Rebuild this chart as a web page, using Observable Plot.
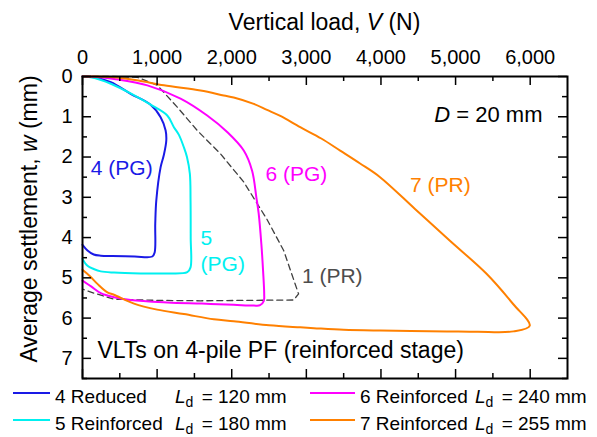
<!DOCTYPE html>
<html><head><meta charset="utf-8">
<script src="https://cdn.jsdelivr.net/npm/d3@7"></script>
<script src="https://cdn.jsdelivr.net/npm/@observablehq/plot@0.6"></script>
<style>
body{margin:0;background:#fff;}
#chart{width:597px;}
svg{display:block}
</style></head><body><div id="chart"></div>
<script>
// ---------- data ----------
const s4V = [0, 150, 380, 645, 913, 1047, 1114, 1123, 1090, 1047, 989, 975, 967, 936, 700, 400, 245, 150, 67, 0];
const s4W = [0, 0.02, 0.14, 0.43, 0.70, 1.01, 1.34, 1.59, 1.95, 2.25, 3.08, 3.66, 4.37, 4.47, 4.47, 4.46, 4.45, 4.42, 4.32, 4.18];

const s5V = [0, 150, 380, 645, 913, 1136, 1225, 1292, 1359, 1400, 1439, 1448, 1450, 1448, 1404, 1100, 779, 422, 245, 150, 67, 0];
const s5W = [0, 0.03, 0.18, 0.42, 0.70, 0.97, 1.26, 1.45, 1.76, 2.0, 2.42, 3.08, 4.0, 4.74, 4.86, 4.89, 4.89, 4.87, 4.84, 4.78, 4.70, 4.53];

const s6V = [0, 200, 422, 869, 1314, 1671, 1939, 2161, 2273, 2330, 2361, 2397, 2420, 2435, 2430, 2380, 2295, 2027, 1600, 1136, 645, 422, 245, 120, 0];
const s6W = [0, 0.01, 0.06, 0.22, 0.55, 0.97, 1.38, 1.84, 2.34, 3.0, 3.4, 4.16, 4.82, 5.4, 5.57, 5.68, 5.69, 5.67, 5.64, 5.61, 5.55, 5.48, 5.38, 5.22, 5.07];

const s7V = [0, 200, 422, 750, 1091, 1582, 1893, 2027, 2295, 2473, 2651, 2918, 3200, 3453, 3720, 3988, 4456, 4924, 5415, 5771, 5994,
             5776, 5300, 4884, 4400, 3993, 3500, 3102, 2918, 2500, 2027, 1760, 1359, 1000, 690, 422, 334, 200, 100, 0];
const s7W = [0, 0.0, 0.02, 0.10, 0.22, 0.35, 0.47, 0.52, 0.68, 0.83, 0.98, 1.26, 1.54, 1.84, 2.16, 2.50, 3.29, 4.08, 4.90, 5.65, 6.19,
             6.33, 6.34, 6.33, 6.32, 6.31, 6.29, 6.25, 6.23, 6.18, 6.08, 6.03, 5.90, 5.79, 5.64, 5.42, 5.36, 5.15, 4.96, 4.80];

const s1V = [0, 400, 735, 1003, 1270, 1538, 1849, 2161, 2473, 2696, 2896, 2829, 2200, 1582, 1000, 420, 155, 0];
const s1W = [0, 0.0, 0.02, 0.22, 0.76, 1.34, 1.92, 2.62, 3.55, 4.32, 5.4, 5.55, 5.56, 5.57, 5.56, 5.53, 5.38, 5.28];

const seriesIds = ["4", "5", "6", "7"];
const seriesColors = ["#1a1ae6", "#00f0f0", "#ff00ff", "#ff8000"];
const legendNames = ["4 Reduced", "5 Reinforced", "6 Reinforced", "7 Reinforced"];
const legendLd = ["120", "180", "240", "255"];

const xTickLabels = [0, 1000, 2000, 3000, 4000, 5000, 6000];
const xMinor = [500, 1500, 2500, 3500, 4500, 5500];
const yTickLabels = [0, 1, 2, 3, 4, 5, 6, 7];
const yMinor = [0.5, 1.5, 2.5, 3.5, 4.5, 5.5, 6.5, 7.5];

const annoText = ["4 (PG)", "5\n(PG)", "6 (PG)", "7 (PR)", "1 (PR)"];
const annoV = [111, 1582, 2451, 4389, 2941];
const annoW = [2.24, 4.30, 2.40, 2.67, 4.91];
const annoColor = ["#1a1ae6", "#00f0f0", "#ff00ff", "#ff8000", "#4d4d4d"];

// ---------- build ----------
const FONT = "Liberation Sans, Arial, Helvetica, sans-serif";
const zip = (id, V, W) => V.map((v, i) => ({id, V: v, w: W[i]}));
const solid = [
  ...zip("4", s4V, s4W), ...zip("5", s5V, s5W), ...zip("6", s6V, s6W), ...zip("7", s7V, s7W)
];
const dashed = zip("1", s1V, s1W);
const annos = annoText.map((t, i) => ({t, V: annoV[i], w: annoW[i], c: annoColor[i]}));

const width = 597, height = 382;
const mL = 82, mR = 30, mT = 76, mB = 4;
const ph = height - mT - mB, pw = width - mL - mR;
const major = 9, minor = 5;

const plot = Plot.plot({
  width, height,
  marginLeft: mL, marginRight: mR, marginTop: mT, marginBottom: mB,
  style: {fontFamily: FONT, fontSize: "20px", background: "white", color: "black", overflow: "visible"},
  x: {domain: [0, 6500], label: null, axis: null},
  y: {domain: [0, 7.5], reverse: true, label: null, axis: null},
  color: {domain: seriesIds, range: seriesColors},
  marks: [
    Plot.line(dashed, {x: "V", y: "w", stroke: "#404040", strokeWidth: 1.3, strokeDasharray: "6,4"}),
    Plot.line(solid, {x: "V", y: "w", z: "id", stroke: "id", strokeWidth: 2, strokeLinejoin: "round", curve: "catmull-rom"}),
    // ticks pointing inward
    Plot.tickX(xTickLabels, {x: d => d, insetBottom: ph - major, stroke: "black", strokeWidth: 1.5}),
    Plot.tickX(xMinor, {x: d => d, insetBottom: ph - minor, stroke: "black", strokeWidth: 1.5}),
    Plot.tickX(xTickLabels, {x: d => d, insetTop: ph - major, stroke: "black", strokeWidth: 1.5}),
    Plot.tickX(xMinor, {x: d => d, insetTop: ph - minor, stroke: "black", strokeWidth: 1.5}),
    Plot.tickY(yTickLabels, {y: d => d, insetRight: pw - major, stroke: "black", strokeWidth: 1.5}),
    Plot.tickY(yMinor, {y: d => d, insetRight: pw - minor, stroke: "black", strokeWidth: 1.5}),
    Plot.tickY(yTickLabels, {y: d => d, insetLeft: pw - major, stroke: "black", strokeWidth: 1.5}),
    Plot.tickY(yMinor, {y: d => d, insetLeft: pw - minor, stroke: "black", strokeWidth: 1.5}),
    // tick labels
    Plot.text(xTickLabels, {x: d => d, frameAnchor: "top", text: d => d3.format(",")(d), lineAnchor: "bottom", dy: -13, fontSize: 20, fill: "black"}),
    Plot.text(yTickLabels, {y: d => d, frameAnchor: "left", text: d => String(d), textAnchor: "end", dx: -10, fontSize: 20, fill: "black"}),
    Plot.frame({stroke: "black", strokeWidth: 2}),
    Plot.text(annos, {x: "V", y: "w", text: "t", fill: "c", textAnchor: "start", lineAnchor: "middle", fontSize: 21, lineHeight: 1.24}),
    Plot.text(["VLTs on 4-pile PF (reinforced stage)"], {x: 200, y: 6.81, text: d => d, textAnchor: "start", lineAnchor: "middle", fontSize: 23, fill: "black"})
  ]
});

const xs = plot.scale("x"), ys = plot.scale("y");
const svg = d3.select(plot);

// top axis title
const tx = svg.append("text")
  .attr("x", xs.apply(3250)).attr("y", 30)
  .attr("text-anchor", "middle").attr("font-size", 23).attr("font-family", FONT).attr("fill", "black");
tx.append("tspan").text("Vertical load, ");
tx.append("tspan").attr("font-style", "italic").text("V");
tx.append("tspan").text(" (N)");

// left axis title
const ty = svg.append("text")
  .attr("transform", `translate(37,219) rotate(-90)`)
  .attr("text-anchor", "middle").attr("font-size", 23).attr("font-family", FONT).attr("fill", "black");
ty.append("tspan").text("Average settlement, ");
ty.append("tspan").attr("font-style", "italic").text("w");
ty.append("tspan").text(" (mm)");

// D = 20 mm
const td = svg.append("text")
  .attr("x", xs.apply(6172)).attr("y", ys.apply(0.94)).attr("dy", "0.35em")
  .attr("text-anchor", "end").attr("font-size", 22).attr("font-family", FONT).attr("fill", "black");
td.append("tspan").attr("font-style", "italic").text("D");
td.append("tspan").text(" = 20 mm");

document.getElementById("chart").append(plot);

// ---------- legend ----------
const leg = d3.select("#chart").append("svg").attr("width", 597).attr("height", 55)
  .style("font-family", FONT);
const colX = [{sw0: 13, sw1: 50, tx: 55, lx: 175}, {sw0: 310, sw1: 355, tx: 360, lx: 475}];
const rowY = [11, 38];
legendNames.forEach((name, i) => {
  const c = colX[Math.floor(i / 2)], r = rowY[i % 2];
  leg.append("line").attr("x1", c.sw0).attr("x2", c.sw1).attr("y1", r).attr("y2", r)
    .attr("stroke", seriesColors[i]).attr("stroke-width", 2);
  leg.append("text").attr("x", c.tx).attr("y", r + 10).attr("font-size", 19).text(name);
  const t = leg.append("text").attr("x", c.lx).attr("y", r + 10).attr("font-size", 19);
  t.append("tspan").attr("font-style", "italic").text("L");
  t.append("tspan").attr("font-size", 14).attr("dy", 4).text("d");
  t.append("tspan").attr("dy", -4).attr("dx", 3).text(" = " + legendLd[i] + " mm");
});
</script></body></html>
